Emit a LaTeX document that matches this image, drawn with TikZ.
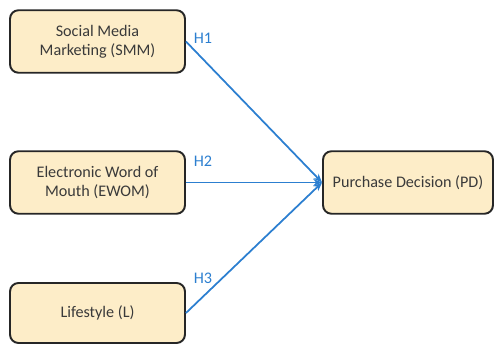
\documentclass[tikz,border=0pt]{standalone}
\usepackage{fontspec}
\setmainfont{Carlito}
\usepackage{tikz}
\usetikzlibrary{positioning, arrows.meta}

\definecolor{boxfill}{HTML}{FDEDC8}
\definecolor{boxline}{HTML}{262626}
\definecolor{pathblue}{HTML}{2C7FD0}
\definecolor{txtgray}{HTML}{3A3A3A}

\begin{document}
\begin{tikzpicture}[
        x=0.02cm, y=0.02cm,
        construct/.style={rectangle, rounded corners=0.17cm, draw=boxline, fill=boxfill, line width=1.1pt, minimum width=3.5cm, minimum height=1.25cm, align=center, text=txtgray, font=\fontsize{9.2}{11}\selectfont},
        hyp/.style={text=pathblue, font=\fontsize{9.2}{11}\selectfont},
        path/.style={-{Stealth[length=5pt, width=4pt]}, line width=1pt, draw=pathblue}
    ]
        \useasboundingbox (0,0) rectangle (494,345);

        % --- CONSTRUCTS ---
        \node[construct] (smm) at (97.5,303.5) {Social Media\\Marketing (SMM)};
        \node[construct] (ewom) at (97.5,162.5) {Electronic Word of\\Mouth (EWOM)};
        \node[construct, minimum height=1.2cm] (lstyle) at (97.5,32) {Lifestyle (L)};
        \node[construct, minimum width=3.4cm] (pd) at (408,162.5) {Purchase Decision (PD)};

        % --- HYPOTHESES ---
        \draw[path] (smm.east) -- (pd.west);
        \draw[path] (ewom.east) -- (pd.west);
        \draw[path] (lstyle.east) -- (pd.west);

        \node[hyp] (h1) at (203,307) {H1};
        \node[hyp] (h2) at (203,184) {H2};
        \node[hyp] (h3) at (203,67) {H3};

    \end{tikzpicture}
\end{document}
